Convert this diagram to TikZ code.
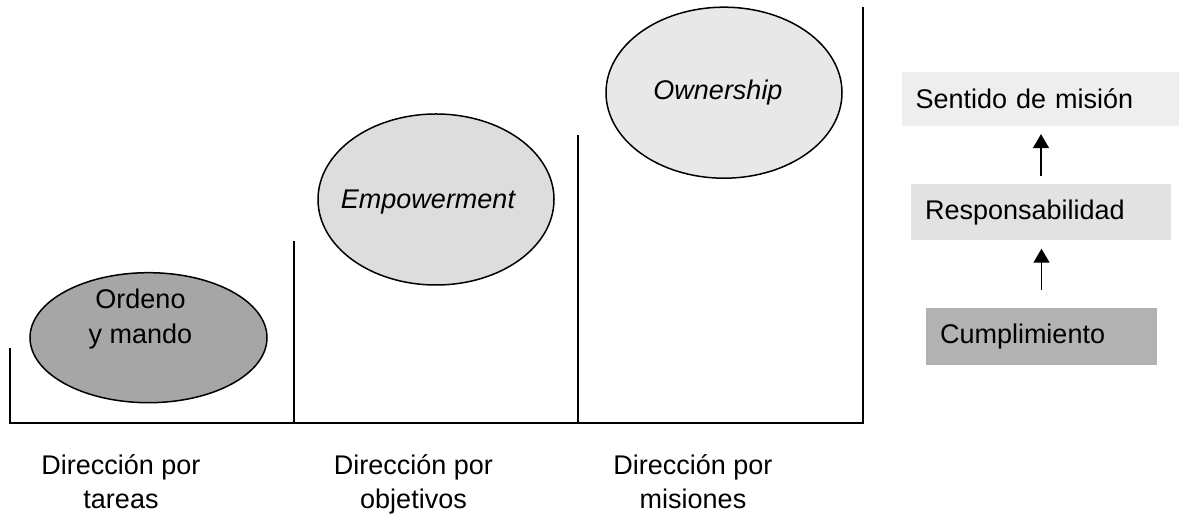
\documentclass[tikz,border=0pt]{standalone}
\usepackage{fontspec}
\setmainfont{Liberation Sans}
\usetikzlibrary{arrows.meta,shapes.geometric}
\definecolor{ordenogray}{RGB}{166,166,166}
\definecolor{empowgray}{RGB}{221,221,221}
\definecolor{ownergray}{RGB}{232,232,232}
\definecolor{misiongray}{RGB}{238,238,238}
\definecolor{respgray}{RGB}{226,226,226}
\definecolor{cumpgray}{RGB}{178,178,178}

\begin{document}
\begin{tikzpicture}[x=0.5pt,y=-0.5pt,
  blob/.style={ellipse,draw,line width=0.75pt,inner sep=0pt},
  lbl/.style={font=\fontsize{13.5}{17}\selectfont,align=center,inner sep=0pt},
  itlbl/.style={lbl,font=\fontsize{13.5}{17}\selectfont\itshape},
  stage/.style={rectangle,inner xsep=7pt,inner ysep=0pt,align=left,font=\fontsize{13.5}{16}\selectfont},
  up/.style={-{Triangle[width=8pt,length=7pt]},line width=0.7pt}]
\useasboundingbox (0,0) rectangle (1179,517);
% steps
\draw[line width=1pt] (10,348) -- (10,423) -- (862.5,423) -- (862.5,7);
\draw[line width=1pt] (294,241.5) -- (294,423);
\draw[line width=1pt] (578,135) -- (578,423);
% ellipses
\node[blob,fill=ordenogray,minimum width=118.5pt,minimum height=65pt] (ordeno) at (148.5,337.7) {};
\node[lbl,font=\fontsize{13.5}{17.5}\selectfont] (ordenotxt) at ([xshift=-4pt,yshift=9.5pt]ordeno.center) {Ordeno\\y mando};
\node[blob,fill=empowgray,minimum width=118pt,minimum height=85.5pt] (empow) at (436,199.5) {};
\node[itlbl] (empowtxt) at ([xshift=-4pt,yshift=-1.5pt]empow.center) {Empowerment};
\node[blob,fill=ownergray,minimum width=118pt,minimum height=85.5pt] (owner) at (724,92.7) {};
\node[itlbl] (ownertxt) at ([xshift=-3pt]owner.center) {Ownership};
% levels
\node[stage,fill=misiongray,text width=124.5pt,minimum height=27pt] (mision) at (1040,98.7) {Sentido de misión};
\node[stage,fill=respgray,text width=116pt,minimum height=28pt] (resp) at (1041,212.3) {Responsabilidad};
\node[stage,fill=cumpgray,text width=101.5pt,minimum height=28.5pt] (cump) at (1041.5,336.7) {Cumplimiento};
\draw[up,shorten <=9pt,shorten >=4pt] (cump.north) -- (cump.north |- resp.south);
\draw[up,shorten <=4pt,shorten >=4pt] (resp.north) -- (resp.north |- mision.south);
% bottom labels
\node[lbl,anchor=north] (tareas) at (121,454) {Dirección por\\tareas};
\node[lbl,anchor=north] (objetivos) at (413.5,454) {Dirección por\\objetivos};
\node[lbl,anchor=north] (misiones) at (693,454) {Dirección por\\misiones};
\end{tikzpicture}
\end{document}
